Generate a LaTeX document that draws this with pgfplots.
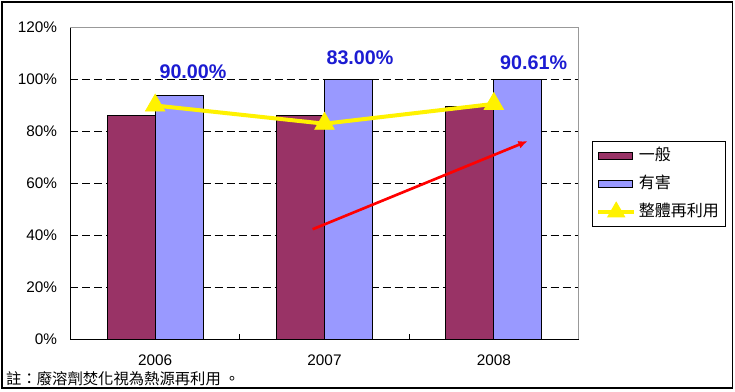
\documentclass[border=0pt]{standalone}
\usepackage{pgfplots}
\pgfplotsset{compat=1.18}
\usetikzlibrary{arrows.meta}
\usepackage{fontspec}
\setmainfont{Liberation Sans}
\newfontfamily\cjk{Noto Sans CJK TC}
\definecolor{barA}{HTML}{993366}
\definecolor{barB}{HTML}{9999FF}
\definecolor{lab}{RGB}{28,28,210}
\begin{document}
\begin{tikzpicture}
\path[use as bounding box] (-52.875pt,-39.375pt) rectangle (498.375pt,254.625pt);
\draw[black,line width=0.9pt] (-51.375pt,-36.375pt) rectangle (496.5pt,253.125pt);
\begin{axis}[at={(0,0)}, anchor=south west, scale only axis,
  width=381pt, height=234pt,
  xmin=-0.5, xmax=2.5, ymin=0, ymax=120,
  axis x line*=bottom, axis y line*=left,
  axis line style={line width=0.8pt, black},
  xtick={0,1,2}, xticklabels={2006,2007,2008},
  ytick={0,20,...,120}, yticklabels={0\%,20\%,40\%,60\%,80\%,100\%,120\%},
  major tick length=0pt,
  extra x ticks={0.5,1.5}, extra x tick labels={},
  extra x tick style={major tick length=3.75pt, tick align=inside, tick style={black,line width=0.75pt}},
  extra y ticks={20,40,60,80,100}, extra y tick labels={},
  extra y tick style={grid=major},
  grid style={black, line width=0.75pt, dash pattern=on 6pt off 3pt},
  tick label style={font=\fontsize{11.5}{13}\selectfont},
  yticklabel style={xshift=-6.5pt},
  xticklabel style={yshift=-8pt},
  legend style={at={(axis description cs:1.026,0.637)}, anchor=north west,
    draw=black, line width=0.75pt, font=\cjk\fontsize{12}{12}\selectfont,
    row sep=5pt, inner sep=3pt,
    nodes={inner sep=2pt, text height=9.5pt, text depth=2.5pt}},
  legend cell align=left,
  clip=false,
]
\addplot[ybar, bar width=36pt, bar shift=-18pt, fill=barA, draw=black, line width=0.75pt,
  legend image code/.code={\draw[fill=barA,draw=black,line width=0.75pt] (0pt,-2.5pt) rectangle (26pt,2.5pt);}]
  coordinates {(0,86.3) (1,86.0) (2,89.8)};
\addlegendentry{一般}
\addplot[ybar, bar width=36pt, bar shift=18pt, fill=barB, draw=black, line width=0.75pt,
  legend image code/.code={\draw[fill=barB,draw=black,line width=0.75pt] (0pt,-2.5pt) rectangle (26pt,2.5pt);}]
  coordinates {(0,93.9) (1,100) (2,100)};
\addlegendentry{有害}
\addplot[sharp plot, color=yellow, line width=3pt, mark=triangle*, mark size=8.5pt,
  mark options={fill=yellow, draw=yellow, line width=0.5pt},
  legend image code/.code={\draw[yellow,line width=3pt] (0pt,0pt) -- (27pt,0pt);
    \fill[yellow] (13.5pt,0pt) ++(90:5pt) -- ++(-120:8.66pt) -- ++(0:8.66pt) -- cycle;}]
  coordinates {(0,90) (1,83) (2,90.61)};
\addlegendentry{整體再利用}
\draw[gray!80, line width=0.75pt] (rel axis cs:0,1) -- (rel axis cs:1,1) -- (rel axis cs:1,0);
\draw[red, line width=2pt, -{Latex[length=7pt,width=6pt]}] (axis cs:0.93,42.4) -- (axis cs:2.2,76.3);
\node[font=\bfseries\fontsize{14.8}{15}\selectfont, text=lab] at (axis cs:0.2234,102.9) {90.00\%};
\node[font=\bfseries\fontsize{14.8}{15}\selectfont, text=lab] at (axis cs:1.2097,108.3) {83.00\%};
\node[font=\bfseries\fontsize{14.8}{15}\selectfont, text=lab] at (axis cs:2.2355,106.5) {90.61\%};
\end{axis}
\node[anchor=west, font=\cjk\fontsize{11.5}{12}\selectfont, inner sep=0pt] at (-48.4pt,-29.6pt) {註：廢溶劑焚化視為熱源再利用 。};
\end{tikzpicture}
\end{document}
